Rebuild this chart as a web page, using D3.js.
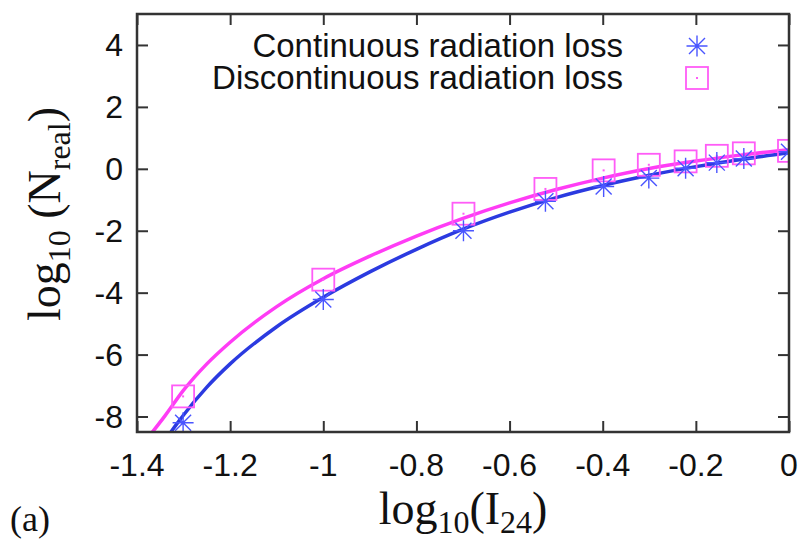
<!doctype html>
<html>
<head>
<meta charset="utf-8">
<script src="https://d3js.org/d3.v7.min.js"></script>
<style>
  body { margin: 0; background: #fff; }
  .tick-label { font-family: "Liberation Sans", Arial, sans-serif; font-size: 32px; fill: #111; }
  .serif { font-family: "Liberation Serif", "Times New Roman", serif; fill: #111; }
</style>
</head>
<body>
<div id="chart"></div>
<script>
// data
var logI = [-1.301, -1.0, -0.699, -0.523, -0.398, -0.301, -0.222, -0.155, -0.097, 0];
var contLoss = [-8.2, -4.22, -2.0, -1.05, -0.57, -0.3, 0.02, 0.2, 0.33, 0.55];
var discLoss = [-7.35, -3.58, -1.45, -0.65, -0.05, 0.13, 0.24, 0.42, 0.5, 0.58];

// fitted curves
var fitX = [-1.38, -1.34, -1.3, -1.25, -1.2, -1.1, -1.0, -0.9, -0.8, -0.7, -0.6, -0.5, -0.4, -0.3, -0.2, -0.1, 0];
var fitCont = [-10.0, -8.8, -7.95, -7.05, -6.3, -5.1, -4.15, -3.33, -2.6, -1.95, -1.4, -0.93, -0.54, -0.21, 0.07, 0.31, 0.52];
var fitDisc = [-8.75, -7.98, -7.15, -6.3, -5.6, -4.45, -3.55, -2.82, -2.17, -1.6, -1.1, -0.67, -0.3, 0.01, 0.25, 0.45, 0.62];

var xTicks = [-1.4, -1.2, -1, -0.8, -0.6, -0.4, -0.2, 0];
var yTicks = [-8, -6, -4, -2, 0, 2, 4];

var W = 802, H = 542;
var pL = 137, pR = 789, pT = 14, pB = 432;
var blue = "#2b3ae0", pink = "#ff3cf5";

var svg = d3.select("#chart").append("svg")
    .attr("width", W).attr("height", H);

var x = d3.scaleLinear().domain([-1.4, 0]).range([pL, pR]);
var y = d3.scaleLinear().domain([-8.5, 5]).range([pB, pT]);

svg.append("clipPath").attr("id", "clip")
    .append("rect")
    .attr("x", pL).attr("y", pT)
    .attr("width", pR - pL).attr("height", pB - pT);

// axes with inward ticks, mirrored on top and right
var tl = 11;
function clean(g) {
    g.select(".domain").remove();
    g.selectAll("text").remove();
}
svg.append("g").attr("transform", "translate(0," + pB + ")")
    .call(d3.axisBottom(x).tickValues(xTicks).tickSize(-tl)).call(clean);
svg.append("g").attr("transform", "translate(0," + pT + ")")
    .call(d3.axisTop(x).tickValues(xTicks).tickSize(-tl)).call(clean);
svg.append("g").attr("transform", "translate(" + pL + ",0)")
    .call(d3.axisLeft(y).tickValues(yTicks).tickSize(-tl)).call(clean);
svg.append("g").attr("transform", "translate(" + pR + ",0)")
    .call(d3.axisRight(y).tickValues(yTicks).tickSize(-tl)).call(clean);
svg.selectAll(".tick line").attr("stroke", "#333").attr("stroke-width", 2);

// tick labels
svg.selectAll(".xlab").data(xTicks).enter().append("text")
    .attr("class", "tick-label")
    .attr("x", d => x(d)).attr("y", 476)
    .attr("text-anchor", "middle")
    .text(d => String(d));
svg.selectAll(".ylab").data(yTicks).enter().append("text")
    .attr("class", "tick-label")
    .attr("x", 123).attr("y", d => y(d) + 11)
    .attr("text-anchor", "end")
    .text(d => String(d));

// fitted lines
var line = d3.line().curve(d3.curveMonotoneX)
    .x(d => x(d[0])).y(d => y(d[1]));
var plot = svg.append("g").attr("clip-path", "url(#clip)");
plot.append("path").datum(d3.zip(fitX, fitCont))
    .attr("d", line).attr("fill", "none").attr("stroke", blue).attr("stroke-width", 3.5);
plot.append("path").datum(d3.zip(fitX, fitDisc))
    .attr("d", line).attr("fill", "none").attr("stroke", pink).attr("stroke-width", 3.5);

// markers
function asterisk(g, cx, cy) {
    var r = 10.5, d = 8;
    g.append("path")
        .attr("d", "M" + (cx - r) + "," + cy + "H" + (cx + r) +
            "M" + cx + "," + (cy - r) + "V" + (cy + r) +
            "M" + (cx - d) + "," + (cy - d) + "L" + (cx + d) + "," + (cy + d) +
            "M" + (cx - d) + "," + (cy + d) + "L" + (cx + d) + "," + (cy - d))
        .attr("stroke", "#4a55ff").attr("stroke-width", 1.4).attr("fill", "none");
}
function box(g, cx, cy) {
    var h = 11;
    g.append("rect").attr("x", cx - h).attr("y", cy - h)
        .attr("width", 2 * h).attr("height", 2 * h)
        .attr("fill", "none").attr("stroke", "#ff5cf7").attr("stroke-width", 1.8);
    g.append("rect").attr("x", cx - 1).attr("y", cy - 1)
        .attr("width", 2).attr("height", 2).attr("fill", "#ff5cf7");
}
var marks = svg.append("g").attr("clip-path", "url(#clip)");
logI.forEach(function (v, i) { box(marks, x(v), y(discLoss[i])); });
logI.forEach(function (v, i) { asterisk(marks, x(v), y(contLoss[i])); });

// frame
svg.append("rect")
    .attr("x", pL).attr("y", pT)
    .attr("width", pR - pL).attr("height", pB - pT)
    .attr("fill", "none").attr("stroke", "#333").attr("stroke-width", 2.5);

// legend
var legend = [
    {name: "Continuous radiation loss", y: 46, mark: asterisk},
    {name: "Discontinuous radiation loss", y: 78, mark: box}
];
legend.forEach(function (d) {
    svg.append("text").attr("class", "tick-label")
        .style("font-size", "33px")
        .attr("x", 623).attr("y", d.y + 11)
        .attr("text-anchor", "end").text(d.name);
    d.mark(svg, 697, d.y);
});

// axis titles
var xt = svg.append("text").attr("class", "serif")
    .attr("x", 463).attr("y", 524).attr("text-anchor", "middle")
    .attr("font-size", 46);
xt.append("tspan").text("log");
xt.append("tspan").attr("font-size", 32).attr("dy", 9).text("10");
xt.append("tspan").attr("dy", -9).text("(I");
xt.append("tspan").attr("font-size", 32).attr("dy", 9).text("24");
xt.append("tspan").attr("dy", -9).text(")");

var yt = svg.append("text").attr("class", "serif")
    .attr("transform", "translate(60,214) rotate(-90)")
    .attr("text-anchor", "middle")
    .attr("font-size", 46);
yt.append("tspan").text("log");
yt.append("tspan").attr("font-size", 32).attr("dy", 10).text("10");
yt.append("tspan").attr("dy", -10).text(" (N");
yt.append("tspan").attr("font-size", 32).attr("dy", 10).text("real");
yt.append("tspan").attr("dy", -10).text(")");

svg.append("text").attr("class", "serif")
    .attr("x", 10).attr("y", 531).attr("font-size", 36).text("(a)");
</script>
</body>
</html>
